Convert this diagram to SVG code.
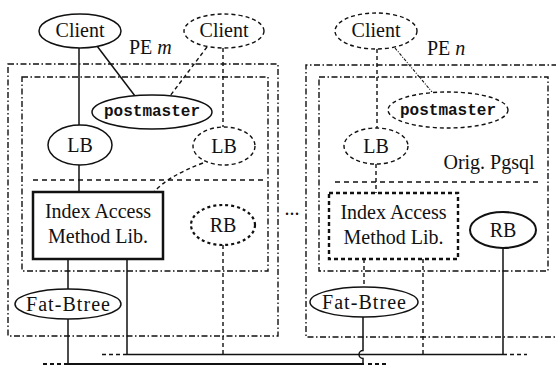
<svg xmlns="http://www.w3.org/2000/svg" width="556" height="368" viewBox="0 0 556 368">
<style>
text{font-family:"Liberation Serif","Times New Roman",serif;font-size:20px;fill:#111;text-anchor:middle}
.mono{font-family:"Liberation Mono","Courier New",monospace;font-size:16px;font-weight:bold}
.sol{fill:#fff;stroke:#111;stroke-width:1.5}
.dsh{fill:#fff;stroke:#111;stroke-width:1.4;stroke-dasharray:4 3}
.thk{fill:#fff;stroke:#111;stroke-width:2.5}
.thkd{fill:#fff;stroke:#111;stroke-width:2.4;stroke-dasharray:4 3}
.pe{fill:none;stroke:#111;stroke-width:1.4;stroke-dasharray:6 2.5 1.5 2.5}
.ln{fill:none;stroke:#111;stroke-width:1.5}
.ld{fill:none;stroke:#111;stroke-width:1.4;stroke-dasharray:4 3}
.ldd{fill:none;stroke:#111;stroke-width:1.1;stroke-dasharray:3 1.5 1 1.5}
.sep{fill:none;stroke:#111;stroke-width:1.4;stroke-dasharray:5 4}
</style>
<rect width="556" height="368" fill="#fff"/>
<g id="pe-m">
<rect class="pe" x="8" y="64" width="270" height="272"/>
<rect class="pe" x="22" y="77" width="246" height="194"/>
<line class="sep" x1="33" y1="180" x2="267" y2="180"/>
<text x="129" y="54" style="text-anchor:start">PE <tspan font-style="italic">m</tspan></text>
</g>
<g id="pe-n">
<path class="pe" d="M570,65 H306 V337 H570"/>
<rect class="pe" x="319" y="77" width="229" height="194"/>
<line class="sep" x1="335" y1="182" x2="540" y2="182"/>
<text x="427" y="55" style="text-anchor:start">PE <tspan font-style="italic">n</tspan></text>
<text x="489" y="169">Orig. Pgsql</text>
</g>
<text id="ellipsis" x="292" y="215">...</text>
<g id="connectors">
<line class="ln" x1="79" y1="48" x2="79" y2="125"/>
<line class="ln" x1="97" y1="46" x2="135" y2="96"/>
<line class="ld" x1="207" y1="47" x2="170" y2="96"/>
<line class="ld" x1="223" y1="48" x2="223" y2="127"/>
<line class="ln" x1="79" y1="165" x2="79" y2="192"/>
<path class="ld" d="M203,163 Q168,176 154,192"/>
<line class="ln" x1="68" y1="259" x2="68" y2="289"/>
<line class="ln" x1="68" y1="319" x2="68" y2="364"/>
<line class="ln" x1="127" y1="259" x2="127" y2="354"/>
<line class="ld" x1="223" y1="245" x2="223" y2="354"/>
<line class="ld" x1="377" y1="49" x2="377" y2="128"/>
<line class="ldd" x1="395" y1="48" x2="432" y2="92"/>
<line class="ld" x1="376" y1="164" x2="376" y2="193"/>
<line class="ld" x1="364" y1="259" x2="364" y2="287"/>
<path class="ln" d="M363,317 V350.5 A4,4 0 0 0 363,358.5 V364"/>
<line class="ld" x1="423" y1="259" x2="423" y2="354"/>
<line class="ln" x1="503" y1="248" x2="503" y2="354"/>
<line class="ln" x1="127" y1="354.5" x2="503" y2="354.5"/>
<line class="ld" x1="102" y1="354.5" x2="127" y2="354.5"/>
<line class="ld" x1="503" y1="354.5" x2="527" y2="354.5"/>
<line class="ln" style="stroke-width:2" x1="68" y1="364" x2="364" y2="364"/>
<line class="ld" style="stroke-width:2" x1="43" y1="364" x2="68" y2="364"/>
<line class="ld" style="stroke-width:2" x1="368" y1="364" x2="388" y2="364"/>
</g>
<g id="client-m1"><ellipse class="sol" cx="80" cy="31" rx="41" ry="17"/><text x="80" y="37">Client</text></g>
<g id="client-m2"><ellipse class="dsh" cx="224" cy="31" rx="40" ry="17"/><text x="224" y="37">Client</text></g>
<g id="client-n"><ellipse class="dsh" cx="376" cy="31" rx="41" ry="18"/><text x="376" y="37">Client</text></g>
<g id="postmaster-m"><ellipse class="sol" cx="152" cy="112" rx="60" ry="17"/><text class="mono" x="152" y="116">postmaster</text></g>
<g id="postmaster-n"><ellipse class="dsh" cx="448" cy="110" rx="60" ry="18"/><text class="mono" x="448" y="115">postmaster</text></g>
<g id="lb-m1"><ellipse class="sol" cx="80" cy="145" rx="32" ry="20"/><text x="80" y="152">LB</text></g>
<g id="lb-m2"><ellipse class="dsh" cx="224" cy="146" rx="31" ry="19"/><text x="224" y="153">LB</text></g>
<g id="lb-n"><ellipse class="dsh" cx="376" cy="146" rx="32" ry="18"/><text x="376" y="153">LB</text></g>
<g id="iam-m"><rect class="thk" x="33" y="192" width="130" height="67"/><text x="98" y="218">Index Access</text><text x="98" y="243">Method Lib.</text></g>
<g id="iam-n"><rect class="thkd" x="329" y="193" width="129" height="66"/><text x="393.5" y="219">Index Access</text><text x="393.5" y="244">Method Lib.</text></g>
<g id="rb-m"><ellipse class="thkd" style="stroke-dasharray:3 3;stroke-width:2.2" cx="223" cy="225" rx="32" ry="20"/><text x="223" y="232">RB</text></g>
<g id="rb-n"><ellipse class="thk" style="stroke-width:2" cx="503" cy="230" rx="33" ry="18"/><text x="503" y="237">RB</text></g>
<g id="fatbtree-m"><ellipse class="sol" cx="68" cy="304" rx="53" ry="15"/><text x="68" y="311" textLength="84" lengthAdjust="spacing">Fat-Btree</text></g>
<g id="fatbtree-n"><ellipse class="sol" cx="364" cy="302" rx="54" ry="15"/><text x="364" y="309" textLength="84" lengthAdjust="spacing">Fat-Btree</text></g>
</svg>
